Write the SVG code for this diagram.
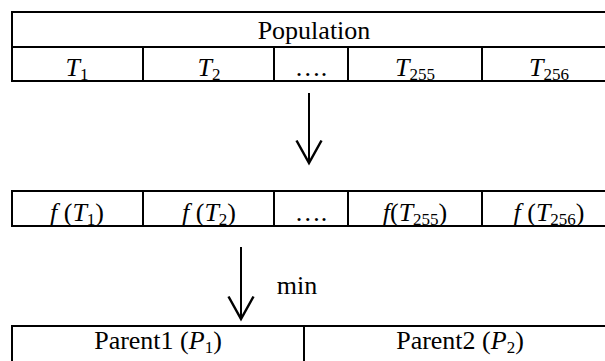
<svg xmlns="http://www.w3.org/2000/svg" width="605" height="361" viewBox="0 0 605 361">
<style>
.cell{fill:none;stroke:#000;stroke-width:2}
.t{font-family:"Liberation Serif","Times New Roman",serif;font-size:26px;fill:#000;text-anchor:middle}
.i{font-style:italic}
.s{font-size:17px}
.conn{stroke:#000;stroke-width:2;fill:none}
</style>
<defs>
<marker id="vhead" markerUnits="userSpaceOnUse" markerWidth="30" markerHeight="30" viewBox="-20 -12 24 24" refX="0" refY="0" orient="auto" overflow="visible">
<path d="M-18,-10 L0,0 L-18,10" fill="none" stroke="#000" stroke-width="2"/>
</marker>
</defs>
<rect width="605" height="361" fill="#fff"/>
<g id="population">
<rect class="cell" x="12" y="12" width="604" height="69"/>
<line class="cell" x1="12" y1="47" x2="616" y2="47"/>
<line class="cell" x1="143" y1="47" x2="143" y2="81"/>
<line class="cell" x1="274" y1="47" x2="274" y2="81"/>
<line class="cell" x1="348" y1="47" x2="348" y2="81"/>
<line class="cell" x1="482" y1="47" x2="482" y2="81"/>
<text class="t" x="314" y="39">Population</text>
<text class="t" x="77" y="76"><tspan class="i">T</tspan><tspan class="s" dy="4">1</tspan></text>
<text class="t" x="209" y="76"><tspan class="i">T</tspan><tspan class="s" dy="4">2</tspan></text>
<text class="t" x="311" y="76">….</text>
<text class="t" x="415" y="76"><tspan class="i">T</tspan><tspan class="s" dy="4">255</tspan></text>
<text class="t" x="549" y="76"><tspan class="i">T</tspan><tspan class="s" dy="4">256</tspan></text>
</g>
<g id="fitness">
<rect class="cell" x="12" y="191" width="604" height="35"/>
<line class="cell" x1="143" y1="191" x2="143" y2="226"/>
<line class="cell" x1="274" y1="191" x2="274" y2="226"/>
<line class="cell" x1="348" y1="191" x2="348" y2="226"/>
<line class="cell" x1="482" y1="191" x2="482" y2="226"/>
<text class="t" x="77" y="221"><tspan class="i">f</tspan> (<tspan class="i">T</tspan><tspan class="s" dy="4">1</tspan><tspan dy="-4">)</tspan></text>
<text class="t" x="209" y="221"><tspan class="i">f</tspan> (<tspan class="i">T</tspan><tspan class="s" dy="4">2</tspan><tspan dy="-4">)</tspan></text>
<text class="t" x="311" y="221">….</text>
<text class="t" x="415" y="221"><tspan class="i">f</tspan>(<tspan class="i">T</tspan><tspan class="s" dy="4">255</tspan><tspan dy="-4">)</tspan></text>
<text class="t" x="549" y="221"><tspan class="i">f</tspan> (<tspan class="i">T</tspan><tspan class="s" dy="4">256</tspan><tspan dy="-4">)</tspan></text>
</g>
<g id="parents">
<rect class="cell" x="12" y="326" width="604" height="50"/>
<line class="cell" x1="304" y1="326" x2="304" y2="376"/>
<text class="t" x="158" y="349">Parent1 (<tspan class="i">P</tspan><tspan class="s" dy="4">1</tspan><tspan dy="-4">)</tspan></text>
<text class="t" x="460" y="349">Parent2 (<tspan class="i">P</tspan><tspan class="s" dy="4">2</tspan><tspan dy="-4">)</tspan></text>
</g>
<g id="connectors">
<line class="conn" x1="309" y1="93" x2="309" y2="163" marker-end="url(#vhead)"/>
<line class="conn" x1="241" y1="247" x2="241" y2="319" marker-end="url(#vhead)"/>
<text class="t" x="297" y="294">min</text>
</g>
</svg>
